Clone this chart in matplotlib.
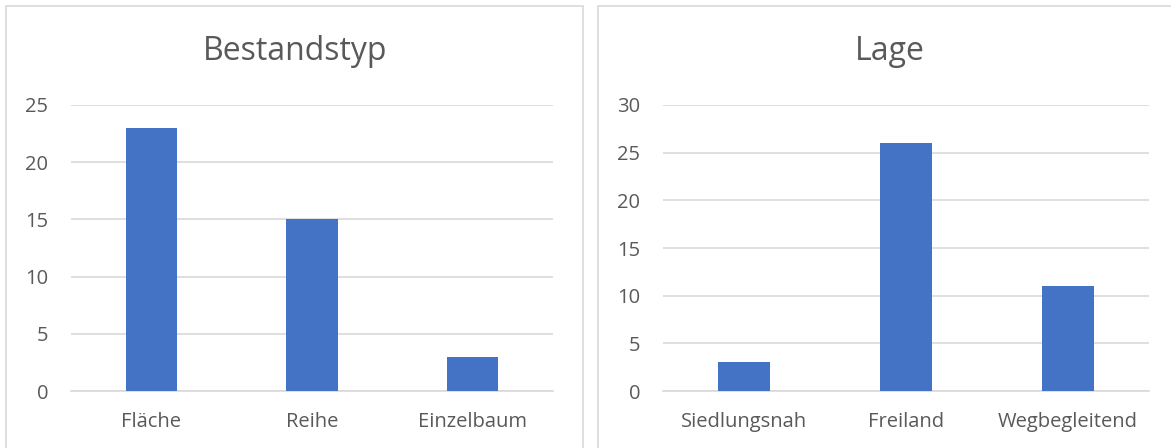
import matplotlib.pyplot as plt
import matplotlib.patches as patches

# data
typ_labels = ["Fläche", "Reihe", "Einzelbaum"]
typ_values = [23, 15, 3]
lage_labels = ["Siedlungsnah", "Freiland", "Wegbegleitend"]
lage_values = [3, 26, 11]

bar_color = "#4472C4"
text_color = "#595959"
grid_color = "#D9D9D9"

plt.rcParams['font.family'] = ['Open Sans', 'DejaVu Sans']

W, H = 1171, 448
fig = plt.figure(figsize=(W / 100, H / 100), dpi=100)

# chart frames (light gray borders)
fig.patches.append(patches.Rectangle((6 / W, -0.05), 577 / W, 1 - 6 / H + 0.05, transform=fig.transFigure,
                                     fill=False, edgecolor="#D9D9D9", linewidth=1.2))
fig.patches.append(patches.Rectangle((598 / W, -0.05), 600 / W, 1 - 6 / H + 0.05, transform=fig.transFigure,
                                     fill=False, edgecolor="#D9D9D9", linewidth=1.2))


def draw_panel(rect, labels, values, title, title_x, ymax, bar_w):
    ax = fig.add_axes(rect)
    ax.bar(range(len(labels)), values, width=bar_w, color=bar_color, zorder=3)
    ax.set_xlim(-0.5, len(labels) - 0.5)
    ax.set_ylim(0, ymax)
    ax.set_yticks(range(0, ymax + 1, 5))
    ax.set_xticks(range(len(labels)))
    ax.set_xticklabels(labels)
    ax.yaxis.grid(True, color=grid_color, linewidth=1.2, zorder=0)
    for s in ["top", "right", "left"]:
        ax.spines[s].set_visible(False)
    ax.spines["bottom"].set_color(grid_color)
    ax.spines["bottom"].set_linewidth(1.2)
    ax.tick_params(axis="y", length=0, pad=16.5, labelsize=14.5, labelcolor=text_color)
    ax.tick_params(axis="x", length=0, pad=15, labelsize=14.5, labelcolor=text_color)
    # title is centred on the chart frame, not on the plot area
    fig.text(title_x / W, 1 - 52 / H, title, fontsize=23, color=text_color, ha="center", va="center")
    return ax


draw_panel([71 / W, 57 / H, 482 / W, 286 / H], typ_labels, typ_values, "Bestandstyp", 295, 25, 0.32)
draw_panel([663 / W, 57 / H, 486 / W, 286 / H], lage_labels, lage_values, "Lage", 890, 30, 0.315)

fig.savefig("out.png", dpi=100)
